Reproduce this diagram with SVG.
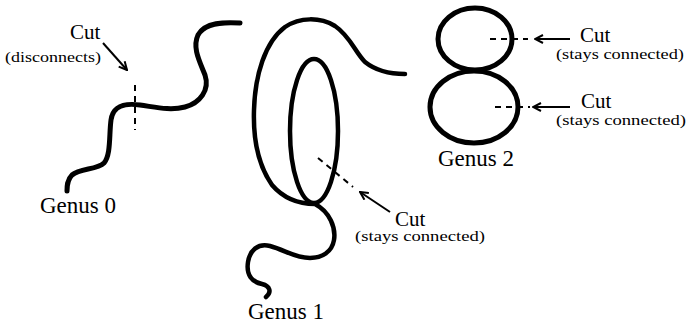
<svg xmlns="http://www.w3.org/2000/svg" width="691" height="325" viewBox="0 0 691 325">
<style>
.curve{fill:none;stroke:#000;stroke-width:5;stroke-linecap:round;stroke-linejoin:round}
.cut{fill:none;stroke:#000;stroke-width:2;stroke-dasharray:6,5}
.arr{fill:none;stroke:#000;stroke-width:2;marker-end:url(#ah)}
.big{font-family:"Liberation Serif","Times New Roman",serif;font-size:21px;fill:#000}
.lab{font-family:"Liberation Serif","Times New Roman",serif;font-size:23px;fill:#000}
.small{font-family:"Liberation Serif","Times New Roman",serif;font-size:14px;fill:#000}
</style>
<defs>
<marker id="ah" viewBox="0 0 10 10" refX="9" refY="5" markerWidth="10" markerHeight="10" markerUnits="userSpaceOnUse" orient="auto">
<path d="M1,1 L9,5 L1,9" fill="none" stroke="#000" stroke-width="2"/>
</marker>
</defs>
<rect width="691" height="325" fill="#fff"/>
<g id="genus0">
<path class="curve" d="M240,23 C225,22 205,22 198,35 C192,48 200,62 205,75 C210,90 200,103 185,107 C170,111 155,107 140,105 C125,103 113,105 111,120 C109,135 111,155 104,163 C97,170 80,168 72,175 C67,180 67,186 67,191"/>
<text class="lab" x="40" y="213">Genus 0</text>
</g>
<g id="genus1">
<path class="curve" style="stroke-width:4.5" d="M405,74 C390,74 375,70 365,62 C355,52 350,36 335,26 C320,17 300,17 285,27 C265,42 255,75 254,110 C253,140 258,165 272,185 C285,200 300,204 315,204 C330,212 336,228 334,240 C332,252 322,258 310,258 C295,258 285,250 270,246 C258,243 250,250 248,262 C246,275 252,282 262,284 C270,286 272,292 266,297"/>
<ellipse class="curve" style="stroke-width:4.5" cx="314" cy="131" rx="24" ry="72"/>
<text class="lab" x="248" y="319">Genus 1</text>
</g>
<g id="genus2">
<ellipse class="curve" cx="475" cy="39" rx="37" ry="31"/>
<ellipse class="curve" cx="474" cy="107" rx="44" ry="36"/>
<text class="lab" x="438" y="166">Genus 2</text>
</g>
<g id="cut0">
<text class="big" x="70" y="39">Cut</text>
<text class="small" x="5" y="62" textLength="96" lengthAdjust="spacingAndGlyphs">(disconnects)</text>
</g>
<g id="cut1">
<text class="big" x="395" y="226">Cut</text>
<text class="small" x="355" y="241" textLength="130" lengthAdjust="spacingAndGlyphs">(stays connected)</text>
</g>
<g id="cut2a">
<text class="big" x="580" y="42">Cut</text>
<text class="small" x="556" y="59" textLength="128" lengthAdjust="spacingAndGlyphs">(stays connected)</text>
</g>
<g id="cut2b">
<text class="big" x="581" y="108">Cut</text>
<text class="small" x="556" y="125" textLength="130" lengthAdjust="spacingAndGlyphs">(stays connected)</text>
</g>
<g id="connectors">
<line class="cut" x1="135" y1="85" x2="135" y2="130"/>
<line class="arr" x1="103" y1="43" x2="127" y2="70"/>
<line class="cut" x1="318" y1="158" x2="353" y2="187"/>
<line class="arr" x1="390" y1="212" x2="360" y2="192"/>
<line class="cut" x1="490" y1="39" x2="528" y2="39"/>
<line class="arr" x1="570" y1="39" x2="535" y2="39"/>
<line class="cut" x1="495" y1="107" x2="530" y2="107"/>
<line class="arr" x1="570" y1="107" x2="533" y2="107"/>
</g>
</svg>
